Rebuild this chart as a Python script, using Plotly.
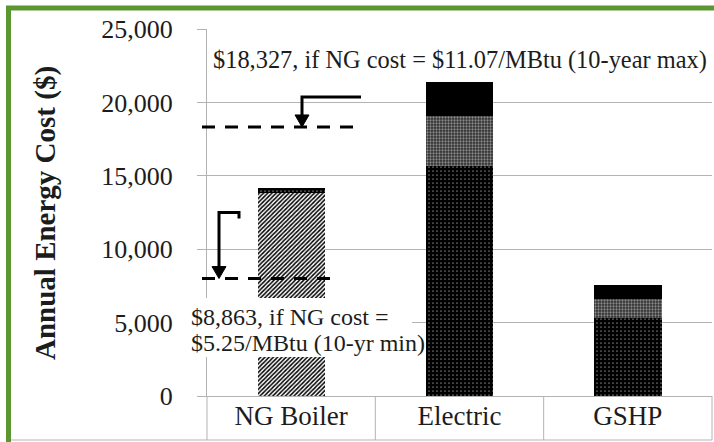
import plotly.graph_objects as go

# ---------------- data ----------------
categories = ["NG Boiler", "Electric", "GSHP"]
gas_heating = [13850, 0, 0]          # diagonal hatch
elec_base = [350, 15700, 5280]       # black with white dots
elec_mid = [0, 3350, 1320]           # grey dotted
elec_top = [0, 2350, 950]            # solid black

y_tick_vals = [0, 5000, 10000, 15000, 20000, 25000]
y_tick_text = ["0", "5,000", "10,000", "15,000", "20,000", "25,000"]
y_max = 25000

ng_max_line = 18327   # dashed line (10-year max NG price)
ng_min_line = 8000    # dashed line as drawn (10-year min NG price)
label_max = "$18,327, if NG cost = $11.07/MBtu (10-year max)"
label_min_1 = "$8,863, if NG cost ="
label_min_2 = "$5.25/MBtu (10-yr min)"
y_title = "Annual Energy Cost ($)"

# ---------------- layout geometry ----------------
W, H = 714, 442
ML, MR, MT, MB = 207, 2, 29, 46
PW = W - ML - MR
PH = H - MT - MB
SERIF = "Liberation Serif, Times New Roman, serif"
GRID = "#b3b3b3"
TXT = "#1c1c1c"


def px(x):
    """pixel x -> paper x"""
    return (x - ML) / PW


def py(y):
    """pixel y (from top) -> paper y"""
    return (H - MB - y) / PH


def ypx(v):
    """data value -> pixel y"""
    return H - MB - v / y_max * PH


fig = go.Figure()

series = [
    ("Natural gas", gas_heating, dict(shape="/", fgcolor="#000000", bgcolor="#ffffff", size=3, solidity=0.5)),
    ("Electric heating", elec_base, dict(shape=".", fgcolor="#ffffff", bgcolor="#000000", size=4, solidity=0.07)),
    ("Electric mid", elec_mid, dict(shape=".", fgcolor="#8a8a8a", bgcolor="#2e2e2e", size=3, solidity=0.45)),
    ("Electric other", elec_top, None),
]
for name, vals, pat in series:
    marker = dict(color="#000000", line=dict(width=0))
    if pat is not None:
        marker["pattern"] = dict(fillmode="replace", **pat)
    fig.add_trace(go.Bar(x=categories, y=vals, name=name, marker=marker, hoverinfo="skip"))

shapes = []
# outer green frame
shapes.append(dict(type="rect", xref="paper", yref="paper", x0=px(8.5), x1=px(730), y0=py(8), y1=py(460),
                   line=dict(color="#5b9631", width=5), fillcolor="rgba(0,0,0,0)", layer="below"))
# category separators below the axis
n = len(categories)
for i in range(n + 1):
    shapes.append(dict(type="line", xref="paper", yref="paper", x0=i / n, x1=i / n, y0=0, y1=py(440),
                       line=dict(color=GRID, width=1)))
shapes.append(dict(type="line", xref="paper", yref="paper", x0=px(11), x1=1.0, y0=py(440), y1=py(440),
                   line=dict(color=GRID, width=1)))

# dashed lines
shapes.append(dict(type="line", xref="paper", yref="y", x0=px(202), x1=px(362), y0=ng_max_line, y1=ng_max_line,
                   line=dict(color="#000000", width=3, dash="13px,10px"), layer="above"))
shapes.append(dict(type="line", xref="paper", yref="y", x0=px(202), x1=px(338), y0=ng_min_line, y1=ng_min_line,
                   line=dict(color="#000000", width=3, dash="13px,10px"), layer="above"))


def elbow_arrow(x_tip, y_tip, x_end, rise, hook=0):
    yh = y_tip - rise
    path = f"M {px(x_end)},{py(yh + hook)} L {px(x_end)},{py(yh)} L {px(x_tip)},{py(yh)} L {px(x_tip)},{py(y_tip - 10)}"
    shapes.append(dict(type="path", xref="paper", yref="paper", path=path,
                       line=dict(color="#000000", width=3), layer="above"))
    head = f"M {px(x_tip - 7)},{py(y_tip - 12)} L {px(x_tip + 7)},{py(y_tip - 12)} L {px(x_tip)},{py(y_tip)} Z"
    shapes.append(dict(type="path", xref="paper", yref="paper", path=head,
                       line=dict(color="#000000", width=1), fillcolor="#000000", layer="above"))


elbow_arrow(302, ypx(ng_max_line), 361, 30, hook=0)
elbow_arrow(219, ypx(ng_min_line), 239, 66, hook=6)

# white box behind the lower label
shapes.append(dict(type="rect", xref="paper", yref="paper", x0=px(186), x1=px(412), y0=py(357), y1=py(298),
                   line=dict(width=0), fillcolor="#ffffff", layer="above"))

annotations = [
    dict(text=label_max, xref="paper", yref="paper", x=px(211), y=py(60), xanchor="left", yanchor="middle",
         showarrow=False, font=dict(family=SERIF, size=24.4, color=TXT)),
    dict(text=label_min_1, xref="paper", yref="paper", x=px(189), y=py(317), xanchor="left", yanchor="middle",
         showarrow=False, font=dict(family=SERIF, size=24, color=TXT)),
    dict(text=label_min_2, xref="paper", yref="paper", x=px(189), y=py(343), xanchor="left", yanchor="middle",
         showarrow=False, font=dict(family=SERIF, size=24, color=TXT)),
    dict(text=f"<b>{y_title}</b>", xref="paper", yref="paper", x=px(45), y=py(213), xanchor="center",
         yanchor="middle", textangle=-90, showarrow=False, font=dict(family=SERIF, size=29, color=TXT)),
]

fig.update_layout(
    width=W, height=H,
    margin=dict(l=ML, r=MR, t=MT, b=MB, pad=0),
    paper_bgcolor="#ffffff", plot_bgcolor="#ffffff",
    barmode="stack", bargap=0.6, showlegend=False,
    shapes=shapes, annotations=annotations,
    font=dict(family=SERIF, color=TXT),
)
fig.update_xaxes(type="category", range=[-0.5, n - 0.5], showline=True, linecolor=GRID, linewidth=1,
                 ticks="", showgrid=False, ticklabelstandoff=-4,
                 tickfont=dict(family=SERIF, size=27, color=TXT), fixedrange=True)
fig.update_yaxes(range=[0, y_max], tickvals=y_tick_vals, ticktext=y_tick_text, showgrid=True, gridcolor=GRID,
                 gridwidth=1, zeroline=False, showline=True, linecolor=GRID, linewidth=1, ticks="outside",
                 ticklen=9, tickcolor=GRID, ticklabelstandoff=19,
                 tickfont=dict(family=SERIF, size=26, color=TXT), fixedrange=True)

fig.write_html("out.html", config={"displayModeBar": False},
               post_script="document.body.style.margin='0px';document.body.style.overflow='hidden';")
